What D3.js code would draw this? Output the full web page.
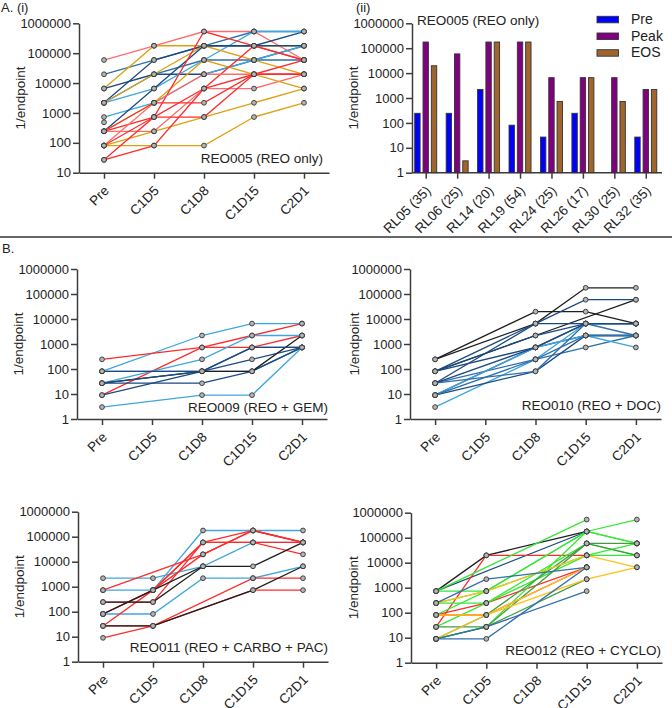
<!DOCTYPE html>
<html><head><meta charset="utf-8">
<script src="https://cdn.jsdelivr.net/npm/d3@7"></script>
<style>
body{margin:0;background:#fff;}
svg text{font-family:"Liberation Sans",Arial,sans-serif;fill:#222;}
</style></head><body>
<svg id="c" width="672" height="708"></svg>
<script>
// ---------- DATA ----------
const timepoints = ["Pre","C1D5","C1D8","C1D15","C2D1"];
const ticksFrom10 = [10,100,1000,10000,100000,1000000];
const ticksFrom1 = [1,10,100,1000,10000,100000,1000000];

// A(i) REO005 (REO only)
const reo005Values = [
  [59049,177147,531441,531441,59049],
  [19683,59049,177147,531441,531441],
  [6561,19683,19683,59049,177147],
  [6561,177147,177147,177147,177147],
  [2187,59049,177147,177147,531441],
  [2187,19683,59049,59049,59049],
  [2187,6561,59049,531441,531441],
  [729,2187,19683,59049,177147],
  [2187,19683,177147,59049,19683],
  [243,6561,177147,177147,177147],
  [243,729,6561,19683,19683],
  [243,243,6561,6561,19683],
  [243,2187,59049,19683,6561],
  [81,81,81,729,2187],
  [81,243,729,2187,6561],
  [81,729,729,19683,59049],
  [27,81,6561,177147,59049],
  [27,729,531441,177147,59049],
  [81,2187,19683,19683,19683],
  [243,2187,2187,19683,19683],
  [486,null,null,null,null]
];
const reo005Colors = ["salmon","steel","navy","gold","navy","steel","light","light","gold","navy","red","salmon","gold","gold","gold","red","red","red","salmon","red","light"];

// A(ii) REO005 bars
const sampleLabels = ["RL05 (35)","RL06 (25)","RL14 (20)","RL19 (54)","RL24 (25)","RL26 (17)","RL30 (25)","RL32 (35)"];
const barSeries = ["Pre","Peak","EOS"];
const preValues  = [243,243,2187,81,27,243,null,27];
const peakValues = [177147,59049,177147,177147,6561,6561,6561,2187];
const eosValues  = [19683,3,177147,177147,729,6561,729,2187];

// B REO009 (REO + GEM)
const reo009Values = [
  [81,null,2187,6561,6561],
  [243,null,729,729,2187],
  [9,null,729,2187,6561],
  [27,null,243,2187,2187],
  [81,null,81,81,729],
  [81,null,81,243,729],
  [27,null,27,81,729],
  [9,null,81,729,729],
  [27,null,81,81,2187],
  [3,null,9,9,729],
  [27,null,81,729,729]
];
const reo009Colors = ["light","red","red","light","steel","navy","navy","navy","black","light","navy"];

// B REO010 (REO + DOC)
const reo010Values = [
  [243,null,19683,19683,6561],
  [243,null,6561,177147,177147],
  [81,null,2187,null,59049],
  [81,null,6561,59049,59049],
  [27,null,6561,6561,6561],
  [9,null,729,6561,6561],
  [81,null,729,2187,2187],
  [27,null,243,729,2187],
  [3,null,243,6561,6561],
  [9,null,729,2187,729],
  [9,null,81,2187,2187],
  [27,null,81,6561,2187],
  [9,null,243,2187,2187],
  [81,null,2187,6561,6561],
  [27,null,729,6561,6561]
];
const reo010Colors = ["black","black","black","navy","navy","navy","navy","steel","light","light","navy","steel","steel","navy","navy"];

// B REO011 (REO + CARBO + PAC)
const reo011Values = [
  [729,729,177147,177147,177147],
  [2187,2187,6561,59049,59049],
  [81,81,2187,2187,6561],
  [729,null,19683,177147,59049],
  [243,243,59049,59049,19683],
  [81,729,59049,177147,59049],
  [81,729,19683,177147,59049],
  [27,729,59049,59049,59049],
  [27,27,null,2187,2187],
  [9,27,null,729,729],
  [243,243,6561,6561,59049],
  [81,729,6561,null,null],
  [27,27,null,729,6561]
];
const reo011Colors = ["light","light","light","red","red","red","red","red","red","red","black","black","black"];

// B REO012 (REO + CYCLO)
const reo012Values = [
  [729,19683,null,177147,null],
  [729,null,null,177147,null],
  [27,19683,null,19683,null],
  [81,81,null,6561,null],
  [81,243,null,6561,null],
  [729,null,null,531441,null],
  [729,729,null,177147,59049],
  [243,729,null,177147,531441],
  [9,27,null,177147,59049],
  [27,243,null,59049,19683],
  [81,729,null,19683,19683],
  [243,243,null,19683,59049],
  [9,81,null,59049,19683],
  [9,27,null,59049,59049],
  [27,27,null,2187,null],
  [9,81,null,2187,6561],
  [243,729,null,19683,6561],
  [81,81,null,6561,null],
  [9,9,null,6561,null],
  [9,27,null,729,null],
  [243,2187,null,6561,null]
];
const reo012Colors = ["black","navy","red","red","red","lime","lime","lime","lime","lime","lime","lime","dkgreen","dkgreen","dkgreen","orange","orange","orange","steel","steel","steel"];

// ---------- STYLE ----------
const palette = {
  red:"#ff2b2b", salmon:"#ff6b6b", gold:"#dea010", navy:"#1b4a82", steel:"#2f6faa",
  light:"#3fa6df", black:"#1e1e1e", lime:"#35e835", dkgreen:"#439c43", orange:"#ffc21a"
};
const barColors = {Pre:"#0000ff", Peak:"#800080", EOS:"#a0652c"};
const AX = "#3c3c3c";
const FS = 13;

const svg = d3.select("#c");

function styleAxis(g){
  g.selectAll("path,line").attr("stroke",AX).attr("stroke-width",1.5);
  g.selectAll("text").attr("font-size",FS).attr("fill","#222");
}

function yTitle(x, yMid){
  svg.append("text").attr("transform",`translate(${x},${yMid}) rotate(-90)`)
    .attr("text-anchor","middle").attr("dy","0.35em").attr("font-size",13.5).text("1/endpoint");
}

function rotateLabels(g){
  g.selectAll(".tick text")
    .attr("x",null).attr("y",null).attr("dy","0.35em")
    .attr("text-anchor","end").attr("font-size",13.5)
    .attr("transform","translate(2,15.5) rotate(-45)");
}

function linePanel(cfg){
  const y = d3.scaleLog().domain([cfg.yMin,1e6]).range([cfg.yBottom,cfg.yTop]);
  const x = d3.scalePoint().domain(timepoints).range([cfg.axisX, cfg.axisX+cfg.width]).padding(0.5);
  const gy = svg.append("g").attr("transform",`translate(${cfg.axisX},0)`)
    .call(d3.axisLeft(y).tickValues(cfg.ticks).tickFormat(d3.format("d")).tickSize(6).tickSizeOuter(0).tickPadding(2));
  styleAxis(gy);
  const gx = svg.append("g").attr("transform",`translate(0,${cfg.yBottom})`)
    .call(d3.axisBottom(x).tickSize(6).tickSizeOuter(0));
  styleAxis(gx);
  rotateLabels(gx);

  const line = d3.line().x(d=>x(d.t)).y(d=>y(d.v));
  const series = cfg.values.map((vals,i)=>({
    color: palette[cfg.colors[i]],
    pts: vals.map((v,j)=>({t:timepoints[j], v})).filter(p=>p.v!=null)
  }));
  const gl = svg.append("g");
  series.forEach(s=>{
    if(s.pts.length>1) gl.append("path").attr("d",line(s.pts)).attr("fill","none")
      .attr("stroke",s.color).attr("stroke-width",1.3);
  });
  const gp = svg.append("g");
  series.forEach(s=>{
    s.pts.forEach(p=>{
      gp.append("circle").attr("cx",x(p.t)).attr("cy",y(p.v)).attr("r",2.4)
        .attr("fill","#b4b4b4").attr("stroke","#333").attr("stroke-width",0.9);
    });
  });
  svg.append("text").attr("x",cfg.titleX).attr("y",cfg.titleY).attr("text-anchor",cfg.titleAnchor||"end")
    .attr("font-size",13.5).text(cfg.title);
  yTitle(cfg.yTitleX, (cfg.yTop+cfg.yBottom)/2);
}

// ---------- PANEL A(i) ----------
linePanel({axisX:79, width:250, yTop:23.3, yBottom:172.7, yMin:10, ticks:ticksFrom10,
  values:reo005Values, colors:reo005Colors, title:"REO005 (REO only)", titleX:323, titleY:163, yTitleX:20});

// ---------- PANEL A(ii) ----------
(function(){
  const yTop=23.3, yBottom=172.7, axisX=412;
  const y = d3.scaleLog().domain([1,1e6]).range([yBottom,yTop]);
  const xg = d3.scaleBand().domain(sampleLabels).range([410.5,662]);
  const xs = d3.scaleBand().domain(barSeries).range([-11,11]).paddingInner(0.35);
  const gy = svg.append("g").attr("transform",`translate(${axisX},0)`)
    .call(d3.axisLeft(y).tickValues(ticksFrom1).tickFormat(d3.format("d")).tickSize(6).tickSizeOuter(0).tickPadding(2));
  styleAxis(gy);
  const gx = svg.append("g").attr("transform",`translate(0,${yBottom})`)
    .call(d3.axisBottom(xg).tickSize(6).tickSizeOuter(0));
  gx.select(".domain").attr("d",`M${axisX},0H662`);
  styleAxis(gx);
  rotateLabels(gx);
  const seriesVals = {Pre:preValues, Peak:peakValues, EOS:eosValues};
  const gb = svg.append("g");
  barSeries.forEach(s=>{
    seriesVals[s].forEach((v,i)=>{
      if(v==null) return;
      const cx = xg(sampleLabels[i]) + xg.bandwidth()/2 - 0.5;
      gb.append("rect").attr("x",cx+xs(s)).attr("width",xs.bandwidth())
        .attr("y",y(v)).attr("height",y(1)-y(v))
        .attr("fill",barColors[s]).attr("stroke","#333").attr("stroke-width",0.9);
    });
  });
  svg.append("text").attr("x",417).attr("y",25).attr("font-size",13.5).text("REO005 (REO only)");
  // legend
  const lg = svg.append("g");
  barSeries.forEach((s,i)=>{
    lg.append("rect").attr("x",597).attr("y",16.3+i*16.7).attr("width",21.5).attr("height",6.5)
      .attr("fill",barColors[s]).attr("stroke","#333").attr("stroke-width",0.9);
    lg.append("text").attr("x",631).attr("y",24+i*16.7).attr("font-size",14).text(s);
  });
  yTitle(353, (yTop+yBottom)/2);
})();

// ---------- PANEL B ----------
linePanel({axisX:77, width:250, yTop:269, yBottom:419, yMin:1, ticks:ticksFrom1,
  values:reo009Values, colors:reo009Colors, title:"REO009 (REO + GEM)", titleX:328, titleY:411.5, yTitleX:18});
linePanel({axisX:410, width:251, yTop:269, yBottom:419, yMin:1, ticks:ticksFrom1,
  values:reo010Values, colors:reo010Colors, title:"REO010 (REO + DOC)", titleX:661, titleY:410, yTitleX:354});
linePanel({axisX:78, width:250, yTop:511.7, yBottom:661.7, yMin:1, ticks:ticksFrom1,
  values:reo011Values, colors:reo011Colors, title:"REO011 (REO + CARBO + PAC)", titleX:328, titleY:651.5, yTitleX:19});
linePanel({axisX:411, width:251, yTop:512.7, yBottom:662.7, yMin:1, ticks:ticksFrom1,
  values:reo012Values, colors:reo012Colors, title:"REO012 (REO + CYCLO)", titleX:661, titleY:655, yTitleX:353});

// ---------- labels & separator ----------
svg.append("line").attr("x1",0).attr("x2",672).attr("y1",237).attr("y2",237).attr("stroke","#333").attr("stroke-width",1.5);
svg.append("text").attr("x",1).attr("y",12).attr("font-size",13).text("A. (i)");
svg.append("text").attr("x",356).attr("y",11.5).attr("font-size",13).text("(ii)");
svg.append("text").attr("x",2).attr("y",253).attr("font-size",13).text("B.");
</script></body></html>
